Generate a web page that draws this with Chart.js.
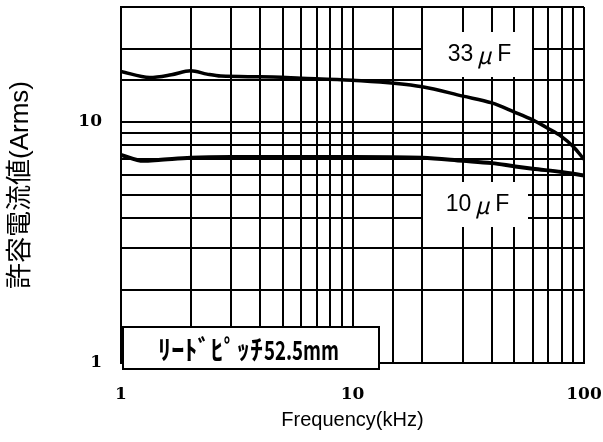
<!DOCTYPE html>
<html>
<head>
<meta charset="utf-8">
<script src="https://cdn.jsdelivr.net/npm/chart.js@4/dist/chart.umd.min.js"></script>
<style>
  html, body { margin: 0; padding: 0; background: #fff; }
  #wrap { width: 603px; height: 442px; }
</style>
</head>
<body>
<div id="wrap"><canvas id="rippleChart" width="603" height="442"></canvas></div>
<script>
// データ (周波数 kHz / 許容電流 Arms)
const freq33 = [1, 1.33, 1.65, 2, 2.35, 2.7, 4, 6, 10, 20, 30, 40, 50, 60, 70, 80, 90, 100];
const amps33 = [16.2, 15.3, 15.7, 16.3, 15.8, 15.5, 15.4, 15.2, 14.9, 14.0, 12.8, 12.0, 11.0, 10.2, 9.4, 8.7, 7.9, 7.0];
const freq10 = [1, 1.25, 1.45, 2, 3, 10, 20, 30, 40, 50, 60, 80, 100];
const amps10 = [7.3, 6.9, 6.95, 7.1, 7.15, 7.15, 7.1, 6.9, 6.75, 6.55, 6.4, 6.2, 6.0];
const xTickLabels = [1, 10, 100];
const yTickLabels = [1, 10];

function toPoints(xs, ys) {
    return xs.map((x, i) => ({ x: x, y: ys[i] }));
}

// ラベル類
const labelPlugin = {
    id: 'labels',
    afterDraw(chart) {
        const ctx = chart.ctx;
        ctx.save();

        // 容量ラベル (白抜き)
        function capLabel(x0, y0, w, h, num) {
            ctx.fillStyle = '#fff';
            ctx.fillRect(x0, y0, w, h);
            ctx.fillStyle = '#000';
            ctx.textBaseline = 'middle';
            ctx.textAlign = 'left';
            const cy = y0 + h / 2;
            ctx.font = '23px "Liberation Sans"';
            const wn = ctx.measureText(num).width;
            const wm = 24;
            const wf = ctx.measureText('F').width;
            let x = x0 + (w - (wn + wm + wf)) / 2 + 2;
            ctx.fillText(num, x, cy);
            x += wn;
            ctx.font = 'italic 23px "Noto Sans CJK JP"';
            ctx.textAlign = 'center';
            ctx.fillText('μ', x + wm / 2 - 1, cy + 1);
            x += wm;
            ctx.textAlign = 'left';
            ctx.font = '23px "Liberation Sans"';
            ctx.fillText('F', x, cy);
        }
        capLabel(423, 32, 109, 45, '33');
        capLabel(423, 182, 105, 45, '10');

        // リードピッチ
        ctx.fillStyle = '#fff';
        ctx.fillRect(123, 327, 256, 42);
        ctx.strokeStyle = '#000';
        ctx.lineWidth = 2;
        ctx.strokeRect(123, 327, 256, 42);
        ctx.fillStyle = '#000';
        ctx.textAlign = 'left';
        ctx.textBaseline = 'middle';
        function squeezed(str, x, w, size) {
            ctx.save();
            ctx.font = 'bold ' + size + 'px "Noto Sans CJK JP"';
            const tw = ctx.measureText(str).width;
            ctx.translate(x, 350);
            ctx.scale(w / tw, 1);
            ctx.fillText(str, 0, 0);
            ctx.restore();
        }
        squeezed('ﾘｰﾄﾞﾋﾟｯﾁ', 158, 105, 27);
        squeezed('52.5mm', 264, 75, 26);
        ctx.restore();
    }
};

function createRippleChart() {
    const ctx = document.getElementById('rippleChart').getContext('2d');

    return new Chart(ctx, {
        type: 'line',
        data: {
            datasets: [
                {
                    label: '33μF',
                    data: toPoints(freq33, amps33),
                    borderColor: '#000',
                    borderWidth: 3.5,
                    tension: 0.4,
                    cubicInterpolationMode: 'monotone',
                    pointRadius: 0,
                    fill: false
                },
                {
                    label: '10μF',
                    data: toPoints(freq10, amps10),
                    borderColor: '#000',
                    borderWidth: 4,
                    tension: 0.4,
                    cubicInterpolationMode: 'monotone',
                    pointRadius: 0,
                    fill: false
                }
            ]
        },
        options: {
            responsive: false,
            animation: false,
            layout: {
                padding: { left: 0, right: 19, top: 7, bottom: 0 }
            },
            plugins: {
                legend: { display: false },
                tooltip: { enabled: false }
            },
            scales: {
                x: {
                    type: 'logarithmic',
                    min: 1,
                    max: 100,
                    afterFit(scale) {
                        scale.height = 79;
                        scale.paddingLeft = 0;
                        scale.paddingRight = 0;
                    },
                    grid: { color: '#000', lineWidth: 2, drawTicks: false },
                    border: { color: '#000', width: 2 },
                    ticks: {
                        autoSkip: false,
                        maxRotation: 0,
                        padding: 21,
                        color: '#000',
                        font: { family: 'DejaVu Serif', weight: 'bold', size: 17 },
                        callback: v => xTickLabels.includes(v) ? String(v) : ''
                    },
                    title: {
                        display: true,
                        text: 'Frequency(kHz)',
                        color: '#000',
                        font: { family: 'Liberation Sans', size: 20 },
                        padding: { top: 0, bottom: 10 }
                    }
                },
                y: {
                    type: 'logarithmic',
                    min: 1,
                    max: 30,
                    afterFit(scale) {
                        scale.width = 121;
                        scale.paddingTop = 0;
                        scale.paddingBottom = 0;
                    },
                    grid: { color: '#000', lineWidth: 2, drawTicks: false },
                    border: { color: '#000', width: 2 },
                    ticks: {
                        autoSkip: false,
                        padding: 19,
                        color: '#000',
                        font: { family: 'DejaVu Serif', weight: 'bold', size: 17 },
                        callback: v => yTickLabels.includes(v) ? String(v) : ''
                    },
                    title: {
                        display: true,
                        text: '許容電流値(Arms)',
                        color: '#000',
                        font: { family: '"Liberation Sans", "Noto Sans CJK JP"', size: 26 },
                        padding: { top: 5, bottom: 0 }
                    }
                }
            }
        },
        plugins: [labelPlugin]
    });
}

createRippleChart();
</script>
</body>
</html>
